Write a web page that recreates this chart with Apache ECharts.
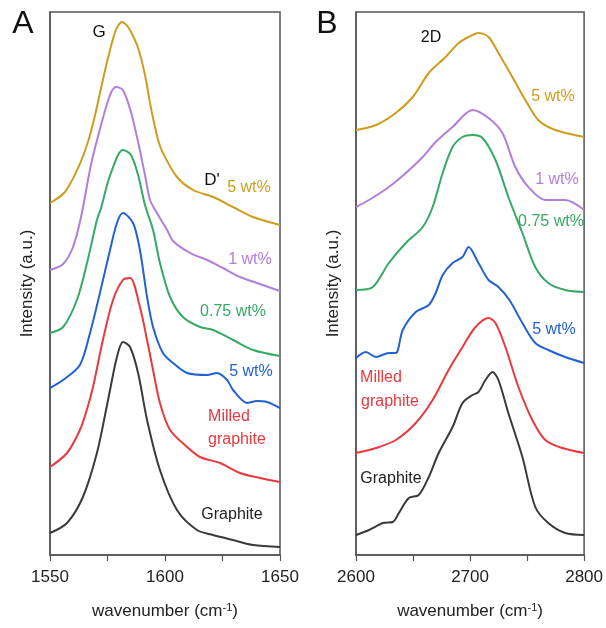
<!DOCTYPE html>
<html>
<head>
<meta charset="utf-8">
<script src="https://cdn.jsdelivr.net/npm/echarts@6/dist/echarts.min.js"></script>
<style>
html,body{margin:0;padding:0;background:#fff;}
#chart{width:606px;height:628px;}
</style>
</head>
<body>
<div id="chart"></div>
<script>
// Panel A (G band), x: wavenumber (cm-1), y: offset intensity (a.u.)
const aGoldX   = [1550,1556.5,1562.2,1566.5,1569.6,1572.2,1575.2,1578.3,1579.8,1581.2,1582.8,1584.8,1588.3,1591.3,1593.9,1597,1599.1,1605.2,1612.2,1620.9,1629.6,1638.3,1650];
const aGoldY   = [352,363,387,413,440,467,497,523,530,533,531,525,507,480,447,415,402,378,365,358,348,338,330];
const aPurpleX = [1550,1555.7,1560,1563.5,1567.8,1572.2,1576.1,1578.7,1581.7,1585.2,1588.3,1591.3,1593.5,1596.5,1600.9,1603.5,1610.9,1618.3,1625.2,1632.6,1640,1650];
const aPurpleY = [285,291,308,338,390,430,460,468,465,443,413,380,355,342,325,314,302,295,287,278,272,264];
const aGreenX  = [1550,1555.7,1561.7,1566.1,1570.4,1572.2,1574.8,1576.5,1579.6,1581.7,1585.2,1588.3,1591.3,1594.8,1597.8,1602.2,1607.8,1615.2,1620.9,1629.6,1638.3,1650];
const aGreenY  = [222,228,255,292,335,347,370,382,400,405,400,380,350,325,292,258,238,228,225,215,205,199];
const aBlueX   = [1550,1555.7,1563,1567.4,1571.7,1576.1,1579.1,1581.7,1586.1,1589.1,1592.2,1594.8,1599.1,1603.5,1609.6,1618.3,1622.6,1627,1629.6,1635.7,1640,1644.3,1650];
const aBlueY   = [167,175,190,222,262,305,332,342,332,305,258,228,202,192,182,180,182,175,165,152,154,153,147];
const aRedX    = [1550,1557.4,1563,1566,1568.7,1573,1577.4,1581.7,1584.8,1589.1,1592.2,1594.8,1597.8,1602.2,1609.6,1615.2,1623.9,1632.6,1641.3,1650];
const aRedY    = [88,102,125,145,168,215,255,275,277,248,215,185,152,125,108,98,92,82,77,73];
const aBlackX  = [1550,1557.4,1564.3,1570.4,1574.8,1576.1,1579.1,1581.7,1584.8,1588.3,1592.2,1597.8,1605.2,1613.9,1620.9,1629.6,1638.3,1650];
const aBlackY  = [22,32,58,102,150,165,198,213,208,182,135,85,45,25,20,15,10,8];

// Panel B (2D band)
const bGoldX   = [2600,2617.5,2634.9,2649.8,2663.8,2678.6,2690,2698.7,2707.4,2716.2,2724.9,2737.1,2748.5,2759.8,2774.7,2800];
const bGoldY   = [425,430,442,458,482,498,512,518,522,518,502,478,455,435,425,418];
const bPurpleX = [2600,2611.4,2628.8,2643.7,2658.5,2669.9,2684.7,2702.2,2716.2,2728.4,2739.7,2751.1,2766,2783.4,2800];
const bPurpleY = [348,355,368,382,398,413,428,445,437,422,388,368,355,355,345];
const bGreenX  = [2600,2614.8,2628.8,2643.7,2658.5,2667.2,2676,2684.7,2693.4,2702.2,2710.9,2722.3,2733.6,2745.9,2757.2,2768.6,2783.4,2800];
const bGreenY  = [265,268,292,312,328,348,382,408,418,420,417,395,358,322,288,272,265,263];
const bBlueX   = [2600,2608.7,2617.5,2628.8,2634.9,2641,2652.4,2663.8,2669.9,2676,2684.7,2693.4,2698.7,2707.4,2716.2,2724.9,2734.5,2745.9,2757.2,2768.6,2783.4,2800];
const bBlueY   = [197,203,198,202,202,225,243,250,262,280,292,298,308,292,275,268,255,232,212,205,198,192];
const bRedX    = [2600,2617.5,2634.9,2652.4,2667.2,2681.2,2693.4,2704.8,2716.2,2722.3,2731,2742.4,2754.6,2766,2780.8,2800];
const bRedY    = [102,107,115,132,155,185,208,228,237,232,208,168,135,115,107,102];
const bBlackX  = [2600,2611.4,2623.6,2632.3,2637.6,2646.3,2655,2663.8,2672.5,2684.7,2693.4,2702.2,2707.4,2713.5,2719.7,2724.9,2733.6,2745.9,2757.2,2768.6,2783.4,2800];
const bBlackY  = [20,25,32,33,42,57,60,78,102,128,152,160,163,175,183,175,142,98,48,32,22,20];

const xTicksA = [1550,1600,1650];
const xTicksB = [2600,2700,2800];

const C = {gold:'#CC9D1E', purple:'#B07EDB', green:'#37A865', blue:'#2261D4', red:'#E8393F', black:'#3A3A3A'};

function pairs(xs, ys){ return xs.map((x,i)=>[x, ys[i]]); }
function line(name, xs, ys, color, idx){
  return {name, type:'line', xAxisIndex:idx, yAxisIndex:idx, data:pairs(xs,ys), smooth:0.3,
    showSymbol:false, symbol:'none', lineStyle:{color, width:2}, itemStyle:{color}, z:3, silent:true};
}

const FONT = 'Liberation Sans, Arial, sans-serif';
const axisCommon = {
  axisLine:{show:true, onZero:false, lineStyle:{color:'#555', width:1.5}},
  axisTick:{show:true, length:6, lineStyle:{color:'#555', width:1.2}},
  splitLine:{show:false}
};
function xAxis(idx, min, max, interval, labels){
  return Object.assign({}, axisCommon, {
    type:'value', gridIndex:idx, min, max, interval,
    axisLabel:{fontSize:17, color:'#222', fontFamily:FONT, margin:14,
      formatter:v => labels.indexOf(v) >= 0 ? String(v) : ''},
    name:'{a|wavenumber (cm}{s|-1}{a|)}', nameLocation:'middle', nameGap:47,
    nameTextStyle:{rich:{a:{fontSize:17, color:'#222', fontFamily:FONT}, s:{fontSize:11, color:'#222', fontFamily:FONT, verticalAlign:'top', padding:[0,0,8,0]}}}
  });
}
function yAxis(idx){
  return Object.assign({}, axisCommon, {
    type:'value', gridIndex:idx, min:0, max:543,
    axisTick:{show:false}, axisLabel:{show:false},
    name:'Intensity (a.u.)', nameLocation:'middle', nameGap:14,
    nameTextStyle:{fontSize:17, color:'#222', fontFamily:FONT}
  });
}

function ctext(x, y, text, color, size){
  return {type:'text', x, y, style:{text, fill:color, font:(size||16)+'px '+FONT, align:'center', verticalAlign:'middle'}, z:10};
}

const option = {
  animation:false,
  backgroundColor:'#fff',
  grid:[
    {left:50, top:12, width:230, height:543, show:true, borderColor:'#555', borderWidth:1.5, backgroundColor:'transparent'},
    {left:356, top:12, width:229, height:543, show:true, borderColor:'#555', borderWidth:1.5, backgroundColor:'transparent'}
  ],
  xAxis:[ xAxis(0,1550,1650,25,xTicksA), xAxis(1,2600,2800,50,xTicksB) ],
  yAxis:[ yAxis(0), yAxis(1) ],
  series:[
    line('Graphite', aBlackX, aBlackY, C.black, 0),
    line('Milled graphite', aRedX, aRedY, C.red, 0),
    line('5 wt% (blue)', aBlueX, aBlueY, C.blue, 0),
    line('0.75 wt%', aGreenX, aGreenY, C.green, 0),
    line('1 wt%', aPurpleX, aPurpleY, C.purple, 0),
    line('5 wt%', aGoldX, aGoldY, C.gold, 0),
    line('Graphite', bBlackX, bBlackY, C.black, 1),
    line('Milled graphite', bRedX, bRedY, C.red, 1),
    line('5 wt% (blue)', bBlueX, bBlueY, C.blue, 1),
    line('0.75 wt%', bGreenX, bGreenY, C.green, 1),
    line('1 wt%', bPurpleX, bPurpleY, C.purple, 1),
    line('5 wt%', bGoldX, bGoldY, C.gold, 1)
  ],
  graphic:[
    ctext(23, 24, 'A', '#111', 32),
    ctext(327, 24, 'B', '#111', 32),
    ctext(99, 32, 'G', '#111', 17),
    ctext(212, 180, "D'", '#111', 17),
    ctext(249, 188, '5 wt%', C.gold, 16),
    ctext(250, 260, '1 wt%', C.purple, 16),
    ctext(233, 312, '0.75 wt%', C.green, 16),
    ctext(251, 372, '5 wt%', C.blue, 16),
    ctext(229, 417, 'Milled', C.red, 16),
    ctext(237, 440, 'graphite', C.red, 16),
    ctext(232, 515, 'Graphite', '#222', 16),
    ctext(431, 38, '2D', '#111', 16),
    ctext(553, 97, '5 wt%', C.gold, 16),
    ctext(557, 180, '1 wt%', C.purple, 16),
    ctext(551, 222, '0.75 wt%', C.green, 16),
    ctext(554, 330, '5 wt%', C.blue, 16),
    ctext(381, 378, 'Milled', C.red, 16),
    ctext(390, 402, 'graphite', C.red, 16),
    ctext(391, 479, 'Graphite', '#222', 16)
  ]
};

const chart = echarts.init(document.getElementById('chart'), null, {renderer:'canvas'});
chart.setOption(option);
</script>
</body>
</html>
